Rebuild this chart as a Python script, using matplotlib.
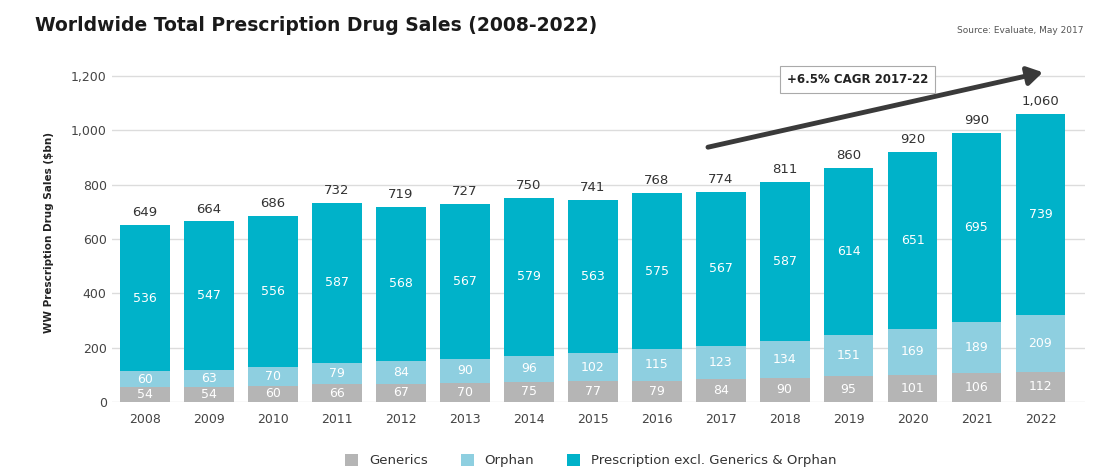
import matplotlib.pyplot as plt
import numpy as np

years = ['2008', '2009', '2010', '2011', '2012', '2013', '2014', '2015',
         '2016', '2017', '2018', '2019', '2020', '2021', '2022']
generics = [54, 54, 60, 66, 67, 70, 75, 77, 79, 84, 90, 95, 101, 106, 112]
orphan = [60, 63, 70, 79, 84, 90, 96, 102, 115, 123, 134, 151, 169, 189, 209]
rx_excl = [536, 547, 556, 587, 568, 567, 579, 563, 575, 567, 587, 614, 651, 695, 739]
totals = ['649', '664', '686', '732', '719', '727', '750', '741', '768', '774',
          '811', '860', '920', '990', '1,060']

c_gen = '#b5b5b5'
c_orph = '#8ecfe0'
c_rx = '#00b2c9'

fig = plt.figure(figsize=(10.94, 4.71), dpi=100)
ax = fig.add_axes([0.102, 0.1465, 0.89, 0.7215])

x = np.arange(len(years))
w = 0.78
gen = np.array(generics)
orp = np.array(orphan)
rx = np.array(rx_excl)
ax.bar(x, gen, w, color=c_gen, label='Generics', zorder=2)
ax.bar(x, orp, w, bottom=gen, color=c_orph, label='Orphan', zorder=2)
ax.bar(x, rx, w, bottom=gen + orp, color=c_rx,
       label='Prescription excl. Generics & Orphan', zorder=2)

for i in range(len(x)):
    ax.text(x[i], gen[i] / 2, str(gen[i]), ha='center', va='center',
            color='white', fontsize=9, zorder=3)
    ax.text(x[i], gen[i] + orp[i] / 2, str(orp[i]), ha='center', va='center',
            color='white', fontsize=9, zorder=3)
    ax.text(x[i], gen[i] + orp[i] + rx[i] / 2, str(rx[i]), ha='center',
            va='center', color='white', fontsize=9, zorder=3)
    top = gen[i] + orp[i] + rx[i]
    ax.text(x[i], top + 22, totals[i], ha='center', va='bottom',
            color='#333333', fontsize=9.5, zorder=3)

ax.set_xlim(-0.52, 14.7)
ax.set_ylim(0, 1250)
ax.set_yticks(np.arange(0, 1201, 200))
ax.set_yticklabels(['{:,}'.format(v) for v in range(0, 1201, 200)])
ax.set_xticks(x)
ax.set_xticklabels(years)
ax.tick_params(axis='both', length=0, labelsize=9, colors='#444444')
ax.tick_params(axis='x', pad=8)
ax.grid(axis='y', color='#dcdcdc', linewidth=1, zorder=0)
for s in ax.spines.values():
    s.set_visible(False)
ax.set_ylabel('WW Prescription Drug Sales ($bn)', fontsize=7.5, fontweight='bold',
              color='#222222', labelpad=12)

# CAGR arrow
ax.annotate('', xy=(14.08, 1215), xytext=(8.76, 935),
            arrowprops=dict(arrowstyle='-|>,head_length=0.9,head_width=0.55',
                            color='#3a3a3a', lw=3.5), zorder=4)
ax.text(11.14, 1185, '+6.5% CAGR 2017-22', ha='center', va='center',
        fontsize=8.5, fontweight='bold', color='#222222', zorder=5,
        bbox=dict(boxstyle='square,pad=0.6', fc='white', ec='#aaaaaa', lw=0.8))

fig.text(0.032, 0.945, 'Worldwide Total Prescription Drug Sales (2008-2022)',
         fontsize=13.5, fontweight='bold', color='#1a1a1a', va='center')
fig.text(0.99, 0.935, 'Source: Evaluate, May 2017', fontsize=6.5,
         color='#555555', ha='right', va='center')

fig.legend(loc='center', bbox_to_anchor=(0.54, 0.022), ncol=3, frameon=False,
           fontsize=9.5, handlelength=1.0, handleheight=1.0, columnspacing=2.5,
           labelcolor='#333333')

fig.savefig('out.png', dpi=100)
